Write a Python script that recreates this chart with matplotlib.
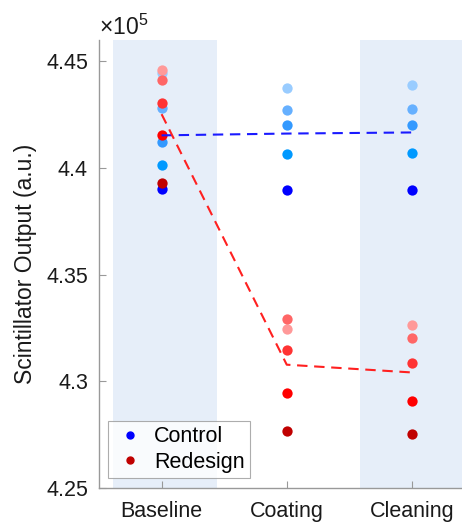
import numpy as np
import matplotlib
matplotlib.use("Agg")
import matplotlib.pyplot as plt
from matplotlib.lines import Line2D

plt.rcParams['font.family'] = ['Liberation Sans', 'DejaVu Sans']
plt.rcParams['mathtext.fontset'] = 'custom'
plt.rcParams['mathtext.rm'] = 'Liberation Sans'

# scintillator output per subject (raw a.u.), order = light -> dark shade
stages = ['Baseline', 'Coating', 'Cleaning']
control_baseline = [444470, 442830, 441220, 440130, 439000]
control_coating = [443750, 442720, 442000, 440640, 438960]
control_cleaning = [443880, 442780, 442000, 440680, 438990]
redesign_baseline = [444590, 444110, 443050, 441570, 439300]
redesign_coating = [432430, 432900, 431460, 429430, 427680]
redesign_cleaning = [432630, 432010, 430840, 429090, 427510]

control_colors = ['#99ccff', '#66b0ff', '#3399ff', '#0099ff', '#0000ff']
redesign_colors = ['#ff9999', '#ff6666', '#ff3333', '#ff0000', '#c00000']

control = np.array([control_baseline, control_coating, control_cleaning]) / 1e5
redesign = np.array([redesign_baseline, redesign_coating, redesign_cleaning]) / 1e5
xs = np.arange(1, len(stages) + 1)

fig = plt.figure(figsize=(4.62, 5.23), dpi=100)
ax = fig.add_axes([99 / 462, 35 / 523, 375.5 / 462, 448 / 523])

shade = '#e6eef9'
ax.axvspan(0.61, 1.44, color=shade, lw=0, zorder=0)
ax.axvspan(2.585, 3.5, color=shade, lw=0, zorder=0)

for i, x in enumerate(xs):
    for k in range(5):
        ax.scatter(x, control[i, k], s=55, color=control_colors[k], lw=0, zorder=3)
        ax.scatter(x, redesign[i, k], s=55, color=redesign_colors[k], lw=0, zorder=3)

ax.plot(xs, control.mean(axis=1), ls=(0, (5, 3.2)), color='#1a1aff', lw=1.5, zorder=4)
ax.plot(xs, redesign.mean(axis=1), ls=(0, (5, 3.2)), color='#ff2020', lw=1.5, zorder=4)

ax.set_xlim(0.5, 3.5)
ax.set_ylim(4.25, 4.46)
ax.set_xticks(xs)
ax.set_xticklabels(stages)
ax.set_yticks([4.25, 4.3, 4.35, 4.4, 4.45])
ax.set_yticklabels(['4.25', '4.3', '4.35', '4.4', '4.45'])
ax.tick_params(direction='in', length=5, color='#999999', labelsize=15.5, labelcolor='#1a1a1a')
ax.tick_params(axis='x', pad=9.5)
ax.tick_params(axis='y', pad=8)
for side in ['top', 'right']:
    ax.spines[side].set_visible(False)
for side in ['left', 'bottom']:
    ax.spines[side].set_color('#999999')
    ax.spines[side].set_linewidth(1.0)

ax.set_ylabel('Scintillator Output (a.u.)', fontsize=16.5, color='#1a1a1a')
ax.yaxis.set_label_coords(-0.165, 0.5)

fig.text(99 / 462, 1 - 35 / 523, r'$\mathregular{\times10^{5}}$', fontsize=16.5, color='#1a1a1a')

handles = [Line2D([], [], ls='none', marker='o', ms=5, color='#0000ff'),
           Line2D([], [], ls='none', marker='o', ms=5, color='#c00000')]
leg = ax.legend(handles, ['Control', 'Redesign'], loc='lower left', bbox_to_anchor=(0.023, 0.022),
                fontsize=15.5, frameon=True, fancybox=False, edgecolor='#999999',
                handlelength=1.6, handletextpad=0.3, borderpad=0.25, borderaxespad=0,
                labelspacing=0.2)
leg.get_frame().set_linewidth(0.8)

fig.savefig('out.png', dpi=100)
